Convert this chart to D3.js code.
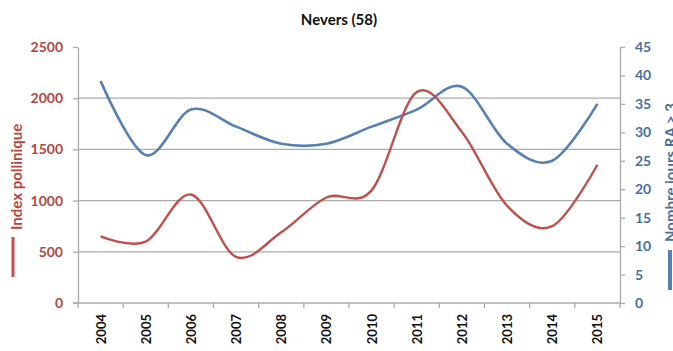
<!DOCTYPE html>
<html>
<head>
<meta charset="utf-8">
<script src="https://cdn.jsdelivr.net/npm/d3@7"></script>
<style>
  body { margin: 0; background: #fff; }
  text { font-family: Lato, "Open Sans", sans-serif; font-weight: bold; }
</style>
</head>
<body>
<div id="chart"></div>
<script>
var years = ["2004","2005","2006","2007","2008","2009","2010","2011","2012","2013","2014","2015"];
var indexPollinique = [650, 600, 1060, 450, 690, 1030, 1100, 2060, 1670, 950, 750, 1350];
var joursRA = [39, 26, 34, 31, 28, 28, 31, 34, 38, 28, 25, 35];
var leftTicks = [0, 500, 1000, 1500, 2000, 2500];
var rightTicks = [0, 5, 10, 15, 20, 25, 30, 35, 40, 45];

var W = 673, H = 351;
var margin = {left: 78, right: 53, top: 47, bottom: 48};
var width = W - margin.left - margin.right,
    height = H - margin.top - margin.bottom;

var red = "#c0504d", blue = "#5780b4";
var redText = "#b8443f", blueText = "#46709f";
var grid = "#ababab";

var svg = d3.select("#chart").append("svg")
  .attr("width", W).attr("height", H);

var g = svg.append("g")
  .attr("transform", "translate(" + margin.left + "," + margin.top + ")");

var x = d3.scaleBand().domain(years).range([0, width]);
var yL = d3.scaleLinear().domain([0, 2500]).range([height, 0]);
var yR = d3.scaleLinear().domain([0, 45]).range([height, 0]);

// horizontal gridlines
g.selectAll(".grid").data(leftTicks.filter(function(d) { return d > 0 && d < 2500; }))
  .enter().append("line")
  .attr("x1", 0).attr("x2", width)
  .attr("y1", function(d) { return yL(d); })
  .attr("y2", function(d) { return yL(d); })
  .attr("stroke", grid).attr("stroke-width", 1.3);

// left axis
var gL = g.append("g").call(d3.axisLeft(yL).tickValues(leftTicks).tickFormat(d3.format("d"))
  .tickSize(5).tickPadding(10).tickSizeOuter(0));
gL.select(".domain").attr("stroke", grid).attr("stroke-width", 1.3);
gL.selectAll(".tick line").attr("stroke", grid).attr("stroke-width", 1.3);
gL.selectAll(".tick text").attr("fill", redText).style("font-size", "14px");

// right axis
var gR = g.append("g").attr("transform", "translate(" + width + ",0)")
  .call(d3.axisRight(yR).tickValues(rightTicks).tickSize(5).tickPadding(10).tickSizeOuter(0));
gR.select(".domain").attr("stroke", grid).attr("stroke-width", 1.3);
gR.selectAll(".tick line").attr("stroke", grid).attr("stroke-width", 1.3);
gR.selectAll(".tick text").attr("fill", blueText).style("font-size", "14px");

// bottom axis with ticks at category boundaries
g.append("line").attr("x1", -5).attr("x2", width)
  .attr("y1", height).attr("y2", height)
  .attr("stroke", grid).attr("stroke-width", 1.3);
var bounds = years.map(function(d) { return x(d); }).concat([width]);
g.selectAll(".xtick").data(bounds).enter().append("line")
  .attr("x1", function(d) { return d; }).attr("x2", function(d) { return d; })
  .attr("y1", height).attr("y2", height + 5)
  .attr("stroke", grid).attr("stroke-width", 1.3);
g.selectAll(".xlab").data(years).enter().append("text")
  .attr("transform", function(d) {
    return "translate(" + (x(d) + x.bandwidth() / 2 + 5) + "," + (height + 11) + ") rotate(-90)";
  })
  .attr("text-anchor", "end")
  .attr("fill", "#111")
  .style("font-size", "13px")
  .text(function(d) { return d; });

// lines
var lineL = d3.line()
  .x(function(d, i) { return x(years[i]) + x.bandwidth() / 2; })
  .y(function(d) { return yL(d); })
  .curve(d3.curveCatmullRom.alpha(0));
var lineR = d3.line()
  .x(function(d, i) { return x(years[i]) + x.bandwidth() / 2; })
  .y(function(d) { return yR(d); })
  .curve(d3.curveCatmullRom.alpha(0));

g.append("path").datum(joursRA).attr("d", lineR)
  .attr("fill", "none").attr("stroke", blue).attr("stroke-width", 2.6);
g.append("path").datum(indexPollinique).attr("d", lineL)
  .attr("fill", "none").attr("stroke", red).attr("stroke-width", 2.4);

// title
svg.append("text").attr("x", 339).attr("y", 25)
  .attr("text-anchor", "middle").attr("fill", "#111")
  .style("font-size", "15px").text("Nevers (58)");

// left axis title with legend key
var tl = svg.append("g").attr("transform", "translate(22,0) rotate(-90)");
tl.append("line").attr("x1", -277).attr("x2", -237).attr("y1", -9).attr("y2", -9)
  .attr("stroke", red).attr("stroke-width", 3);
tl.append("text").attr("x", -230).attr("y", 0).attr("fill", redText)
  .style("font-size", "15px").text("Index pollinique");

// right axis title with legend key (clipped at the edge as in the source)
var tr = svg.append("g").attr("transform", "translate(676,0) rotate(-90)");
tr.append("line").attr("x1", -290).attr("x2", -250).attr("y1", -6).attr("y2", -6)
  .attr("stroke", blue).attr("stroke-width", 4);
tr.append("text").attr("x", -242).attr("y", 0).attr("fill", blueText)
  .style("font-size", "15px").text("Nombre jours RA > 3");
</script>
</body>
</html>
